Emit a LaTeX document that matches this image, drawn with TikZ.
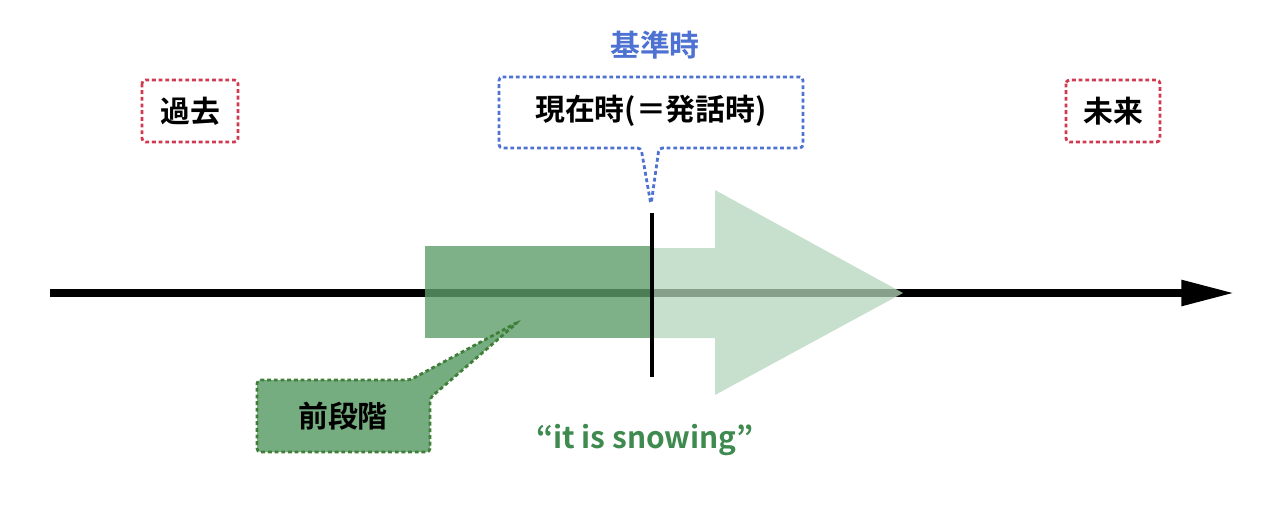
\documentclass[tikz,border=0pt]{standalone}
\usepackage{fontspec}
\setmainfont{Noto Sans CJK JP}[BoldFont={* Bold}]
\usetikzlibrary{arrows.meta}
\definecolor{dgreen}{HTML}{3F7F3A}
\definecolor{mgreen}{HTML}{5E9E6A}
\definecolor{lgreen}{HTML}{B4D6BC}
\definecolor{tgreen}{HTML}{3E8A4F}
\definecolor{bl}{HTML}{4E72D2}
\definecolor{rd}{HTML}{CF3A50}
\tikzset{
  px/.style={x=0.02cm,y=-0.02cm},
  dotb/.style={line width=1.6pt,dash pattern=on 2.2pt off 1.6pt,rounded corners=2pt},
  lbl/.style={font=\bfseries\fontsize{17}{20}\selectfont,inner sep=0pt}
}
\begin{document}
\begin{tikzpicture}[px]
\useasboundingbox (0,0) rectangle (1280,511);
% time axis
\coordinate (s) at (50,293); \coordinate (e) at (1234,293);
\draw[line width=4pt,-{Triangle[length=30pt,width=14pt]}] (s) -- (e);
% green shapes
\fill[lgreen,opacity=0.75] (652,248) -- (715,248) -- (715,190) -- (903,293) -- (715,395) -- (715,338) -- (652,338) -- cycle;
\fill[mgreen,opacity=0.8] (425,246) rectangle (652,338);
\draw[line width=2.4pt] (652,213) -- (652,377);
% kijunji box
\draw[bl,dotb,fill=white] (499,77) -- (803,77) -- (803,148) -- (659,148) -- (651,205) -- (641,148) -- (499,148) -- cycle;
\node[lbl] (now) at (651,111) {現在時(＝発話時)};
\node[lbl,text=bl] (kj) at (655,45) {基準時};
% past / future
\draw[rd,dotb] (142,80) rectangle (238,142);
\node[lbl] (past) at (190,111) {過去};
\draw[rd,dotb] (1066,80) rectangle (1160,142);
\node[lbl] (fut) at (1113,111) {未来};
% zendankai
\draw[dgreen,dotb,fill=mgreen!85] (257,380) -- (410,380) -- (518,322) -- (430,398) -- (430,452) -- (257,452) -- cycle;
\node[lbl] (pre) at (343,416) {前段階};
\node[lbl,text=tgreen] (sn) at (645,440) {“it is snowing”};
\end{tikzpicture}
\end{document}
